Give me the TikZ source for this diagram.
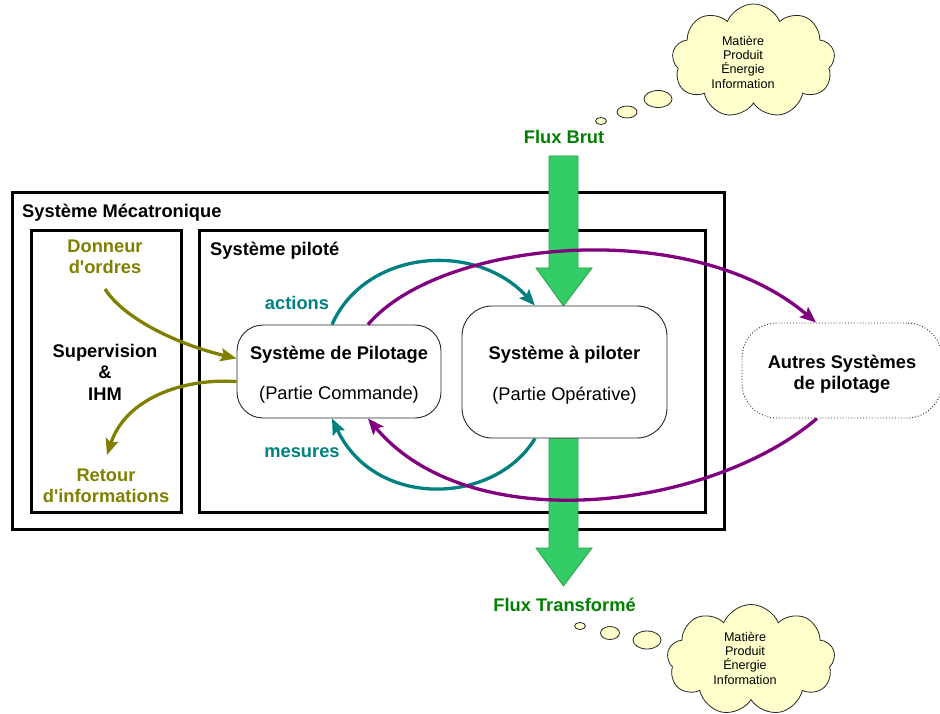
\documentclass[tikz,border=0pt]{standalone}
\usepackage{fontspec}
\setmainfont{Liberation Sans}[Ligatures=TeXOff]
\usetikzlibrary{shapes.symbols,arrows.meta,calc}
\definecolor{olivec}{HTML}{808000}
\definecolor{tealc}{HTML}{008080}
\definecolor{purplec}{HTML}{800080}
\definecolor{flowgreen}{HTML}{33CC66}
\definecolor{flowedge}{HTML}{2E9E45}
\definecolor{textgreen}{HTML}{008000}
\definecolor{cloudfill}{HTML}{FFFFCC}
\begin{document}
\begin{tikzpicture}[x=1pt,y=-1pt,
  bigframe/.style={draw=black,line width=3pt,inner sep=0pt,outer sep=0pt},
  rbox/.style={draw=black!85,line width=0.9pt,fill=white,align=center,inner sep=0pt,font=\fontsize{18.3}{21.5}\selectfont},
  lbl/.style={font=\fontsize{18.3}{21.5}\selectfont\bfseries,inner sep=0pt,align=center},
  cloudtxt/.style={font=\fontsize{12.6}{14.3}\selectfont,inner sep=0pt,align=center},
  puff/.style={cloud,draw=black!85,line width=0.8pt,fill=cloudfill,cloud puffs=9,cloud puff arc=135,cloud ignores aspect,inner sep=0pt},
  bubble/.style={draw=black!85,line width=0.8pt,fill=cloudfill},
  flow/.style={fill=flowgreen,draw=flowedge,line width=0.8pt},
  arrowtip/.style={-{Stealth[length=16pt,width=13pt,inset=3pt]}},
  olivearrow/.style={arrowtip,draw=olivec,fill=none,line width=3.3pt},
  tealarrow/.style={arrowtip,draw=tealc,line width=3.3pt},
  purplearrow/.style={arrowtip,draw=purplec,line width=3.3pt}
]
\useasboundingbox (0,0) rectangle (940,714);

% frames
\node[bigframe,minimum width=712pt,minimum height=336pt] (meca) at (368,361) {};
\node[bigframe,minimum width=150pt,minimum height=281pt] (superv) at (106,371.5) {};
\node[bigframe,minimum width=506pt,minimum height=281pt] (pilote) at (452,371.5) {};

% flows
\draw[flow] (549,156) -- (578,156) -- (578,268) -- (592,268) -- (563.5,306) -- (536,268) -- (549,268) -- cycle;
\draw[flow] (549,438) -- (578,438) -- (578,548) -- (592,548) -- (563.5,586) -- (536,548) -- (549,548) -- cycle;

% clouds
\node[puff,minimum width=163pt,minimum height=114pt] (cloudtop) at (753.5,61) {};
\draw[bubble] (601,121) ellipse [x radius=5.5pt,y radius=3.5pt];
\draw[bubble] (627,112) ellipse [x radius=10pt,y radius=6pt];
\draw[bubble] (658,99) ellipse [x radius=14pt,y radius=8.5pt];
\node[cloudtxt] (cloudtoptext) at (743,62) {Matière\\Produit\\Énergie\\Information};

\node[puff,minimum width=168pt,minimum height=111pt] (cloudbot) at (751,660) {};
\draw[bubble] (580,626) ellipse [x radius=5.5pt,y radius=3.5pt];
\draw[bubble] (610,633) ellipse [x radius=9.5pt,y radius=6.5pt];
\draw[bubble] (647,640) ellipse [x radius=14pt,y radius=9pt];
\node[cloudtxt] (cloudbottext) at (745,658) {Matière\\Produit\\Énergie\\Information};

% boxes
\node[rbox,rounded corners=26pt,minimum width=204pt,minimum height=93pt] (pil) at (339,371.5)
  {\rule{0pt}{19.5pt}\textbf{Système de Pilotage}\\[19pt](Partie Commande)};
\node[rbox,rounded corners=30pt,minimum width=205pt,minimum height=132pt] (apil) at (564.5,372)
  {\rule{0pt}{19.5pt}\textbf{Système à piloter}\\[19pt](Partie Opérative)};
\node[rbox,rounded corners=35pt,dotted,minimum width=200pt,minimum height=95pt,font=\fontsize{18.3}{21.5}\selectfont\bfseries] (autres) at (842,370.5)
  {\rule{0pt}{20.5pt}Autres Systèmes\\de pilotage};

% connectors
\draw[tealarrow] ($(pil.north)+(-7,0)$) .. controls (365,250) and (475,240) .. ($(apil.north)+(-29.5,0)$);
\draw[tealarrow] ($(apil.south)+(-29.5,0)$) .. controls (495,505) and (375,510) .. ($(pil.south)+(-7,0)$);
\draw[purplearrow] ($(pil.north)+(29,0)$) .. controls (440,240) and (690,215) .. ($(autres.north)+(-26,0)$);
\draw[purplearrow] ($(autres.south)+(-25,0)$) .. controls (710,510) and (470,540) .. ($(pil.south)+(29,0)$);
\coordinate (donneurpt) at (105,289);
\coordinate (retourpt) at (107,455);
\draw[olivearrow] (donneurpt) .. controls (125,320) and (180,345) .. ($(pil.west)+(0,-13)$);
\draw[olivearrow] ($(pil.west)+(0,10)$) .. controls (180,378) and (125,400) .. (retourpt);

% labels
\node[lbl,anchor=base west] (tmeca) at (22,218) {Système Mécatronique};
\node[lbl,anchor=base west] (tpil) at (210,256) {Système piloté};
\node[lbl,text=olivec] (donneur) at (105,257) {Donneur\\d'ordres};
\node[lbl] (supervtxt) at (105,372) {Supervision\\\&\\IHM};
\node[lbl,text=olivec] (retour) at (106,486) {Retour\\d'informations};
\node[lbl,text=tealc] (actions) at (297,303) {actions};
\node[lbl,text=tealc] (mesures) at (302,453) {mesures};
\node[lbl,text=textgreen] (fluxbrut) at (564,137) {Flux Brut};
\node[lbl,text=textgreen] (fluxtr) at (564.5,605) {Flux Transformé};
\end{tikzpicture}
\end{document}
